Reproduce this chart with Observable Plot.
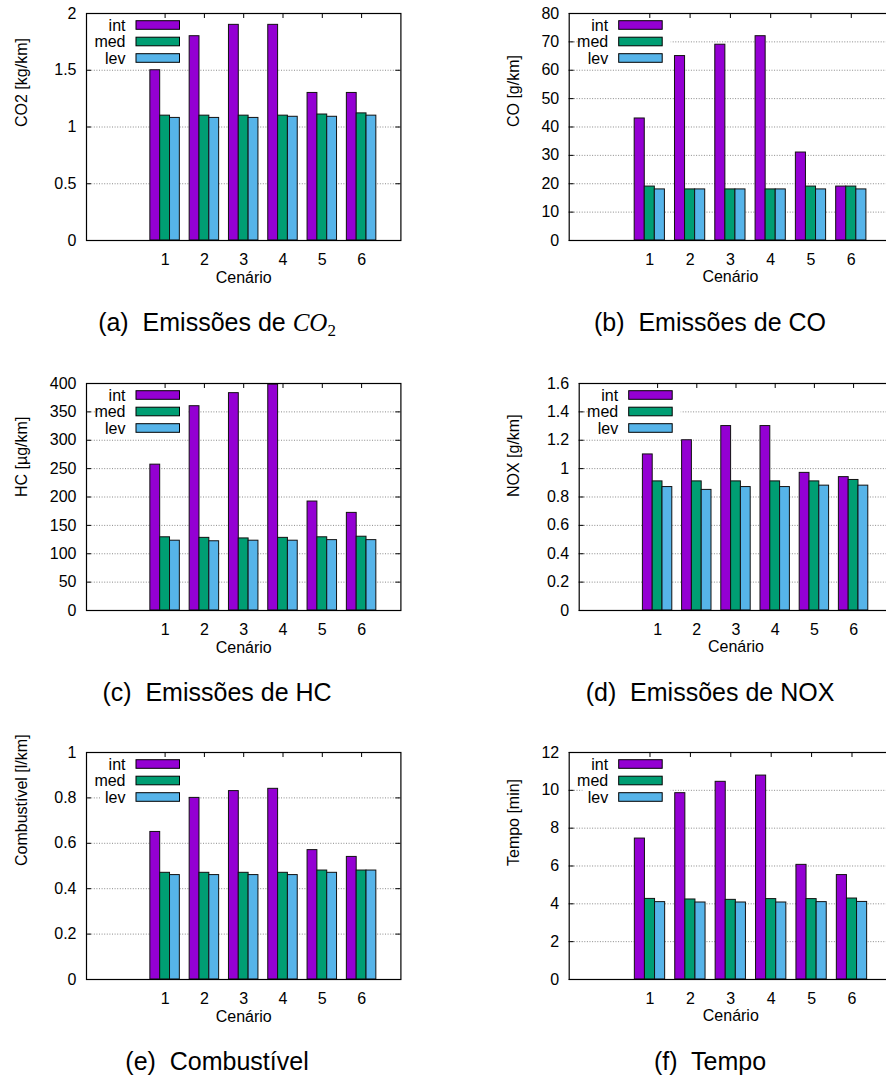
<!DOCTYPE html>
<html><head><meta charset="utf-8">
<script src="https://cdn.jsdelivr.net/npm/d3@7"></script>
<script src="https://cdn.jsdelivr.net/npm/@observablehq/plot@0.6"></script>
<style>
html,body{margin:0;padding:0;width:886px;height:1077px;overflow:hidden;background:#fff;font-family:"Liberation Sans",Arial,sans-serif;}
.cell{position:absolute;}
.cell svg{max-width:none !important;}
.cap{position:absolute;font-size:25px;white-space:pre;transform:translateX(-50%);color:#000;line-height:1;}
.math{font-family:"Liberation Serif",serif;font-style:italic;}
.sub{font-family:"Liberation Serif",serif;font-size:17px;position:relative;top:5px;}
</style></head><body>
<div id="root"></div>
<script>
const cenarios = [1, 2, 3, 4, 5, 6];
const series = ["int", "med", "lev"];
const colors = ["#9400d3", "#009e73", "#56b4e9"];

const co2Int = [1.5, 1.8, 1.9, 1.9, 1.3, 1.3];
const co2Med = [1.1, 1.1, 1.1, 1.1, 1.11, 1.12];
const co2Lev = [1.08, 1.08, 1.08, 1.09, 1.09, 1.1];
const co2Ticks = [0, 0.5, 1, 1.5, 2];
const co2TickLabels = ["0", "0.5", "1", "1.5", "2"];

const coInt = [43, 65, 69, 72, 31, 19];
const coMed = [19, 18, 18, 18, 19, 19];
const coLev = [18, 18, 18, 18, 18, 18];
const coTicks = [0, 10, 20, 30, 40, 50, 60, 70, 80];
const coTickLabels = ["0", "10", "20", "30", "40", "50", "60", "70", "80"];

const hcInt = [257, 360, 383, 398, 192, 172];
const hcMed = [129, 128, 127, 128, 129, 130];
const hcLev = [123, 122, 123, 123, 124, 124];
const hcTicks = [0, 50, 100, 150, 200, 250, 300, 350, 400];
const hcTickLabels = ["0", "50", "100", "150", "200", "250", "300", "350", "400"];

const noxInt = [1.1, 1.2, 1.3, 1.3, 0.97, 0.94];
const noxMed = [0.91, 0.91, 0.91, 0.91, 0.91, 0.92];
const noxLev = [0.87, 0.85, 0.87, 0.87, 0.88, 0.88];
const noxTicks = [0, 0.2, 0.4, 0.6, 0.8, 1, 1.2, 1.4, 1.6];
const noxTickLabels = ["0", "0.2", "0.4", "0.6", "0.8", "1", "1.2", "1.4", "1.6"];

const fuelInt = [0.65, 0.80, 0.83, 0.84, 0.57, 0.54];
const fuelMed = [0.47, 0.47, 0.47, 0.47, 0.48, 0.48];
const fuelLev = [0.46, 0.46, 0.46, 0.46, 0.47, 0.48];
const fuelTicks = [0, 0.2, 0.4, 0.6, 0.8, 1];
const fuelTickLabels = ["0", "0.2", "0.4", "0.6", "0.8", "1"];

const tempoInt = [7.45, 9.85, 10.45, 10.78, 6.06, 5.52];
const tempoMed = [4.26, 4.23, 4.21, 4.25, 4.25, 4.28];
const tempoLev = [4.09, 4.07, 4.07, 4.07, 4.09, 4.1];
const tempoTicks = [0, 2, 4, 6, 8, 10, 12];
const tempoTickLabels = ["0", "2", "4", "6", "8", "10", "12"];

const panels = [
  {ylabel: "CO2 [kg/km]", values: [co2Int, co2Med, co2Lev], ticks: co2Ticks, labels: co2TickLabels,
   caption: "(a)  Emissões de <span class='math'>CO</span><span class='sub'>2</span>",
   left: 0, top: 0, ml: 86, fw: 314.4, mr: 42.6, ylOff: 65, capX: 217},
  {ylabel: "CO [g/km]", values: [coInt, coMed, coLev], ticks: coTicks, labels: coTickLabels,
   caption: "(b)  Emissões de CO",
   left: 443, top: 0, ml: 125.7, fw: 322.4, mr: 2, ylOff: 55, capX: 710},
  {ylabel: "HC [µg/km]", values: [hcInt, hcMed, hcLev], ticks: hcTicks, labels: hcTickLabels,
   caption: "(c)  Emissões de HC",
   left: 0, top: 370, ml: 86, fw: 314.4, mr: 42.6, ylOff: 65, capX: 217},
  {ylabel: "NOX [g/km]", values: [noxInt, noxMed, noxLev], ticks: noxTicks, labels: noxTickLabels,
   caption: "(d)  Emissões de NOX",
   left: 443, top: 370, ml: 135.7, fw: 313.6, mr: 2, ylOff: 65, capX: 710},
  {ylabel: "Combustível [l/km]", values: [fuelInt, fuelMed, fuelLev], ticks: fuelTicks, labels: fuelTickLabels,
   caption: "(e)  Combustível",
   left: 0, top: 739, ml: 86, fw: 314.4, mr: 42.6, ylOff: 65, capX: 217},
  {ylabel: "Tempo [min]", values: [tempoInt, tempoMed, tempoLev], ticks: tempoTicks, labels: tempoTickLabels,
   caption: "(f)  Tempo",
   left: 443, top: 739, ml: 125.7, fw: 323.2, mr: 2, ylOff: 55, capX: 710}
];

const FS = 16;
const MT = 13, FH = 227, H = 290;
const root = document.getElementById("root");

panels.forEach(p => {
  const width = p.ml + p.fw + p.mr;
  const yMax = p.ticks[p.ticks.length - 1];
  const data = [];
  cenarios.forEach((c, i) => series.forEach((s, j) => data.push({c, s, j, v: p.values[j][i]})));
  const grid = p.ticks.filter(t => t > 0 && t < yMax);
  const legend = () => {
    const g = d3.create("svg:g").attr("font-family", "Liberation Sans, Arial, sans-serif").attr("font-size", FS);
    const x0 = p.ml, y0 = MT;
    g.append("rect").attr("x", x0 + 14).attr("y", y0 + 4).attr("width", 88).attr("height", 51).attr("fill", "white");
    series.forEach((s, j) => {
      const cy = y0 + 12 + j * 16.5;
      g.append("text").attr("x", x0 + 39.5).attr("y", cy).attr("dy", "0.36em").attr("text-anchor", "end").attr("fill", "#000").text(s);
      g.append("rect").attr("x", x0 + 50).attr("y", cy - 4.3).attr("width", 43.5).attr("height", 8.6)
        .attr("fill", colors[j]).attr("stroke", "#000").attr("stroke-width", 1);
    });
    return g.node();
  };
  const chart = Plot.plot({
    width, height: H,
    marginLeft: p.ml, marginRight: p.mr, marginTop: MT, marginBottom: H - MT - FH,
    style: {fontFamily: "Liberation Sans, Arial, sans-serif", fontSize: FS + "px", background: "transparent", overflow: "visible", color: "#000"},
    x: {domain: [-1, 7]},
    y: {domain: [0, yMax]},
    color: {domain: series, range: colors},
    marks: [
      Plot.ruleY(grid, {stroke: "#8a8a8a", strokeWidth: 1, strokeDasharray: "1,1.6"}),
      legend,
      Plot.rectY(data, {
        x1: d => d.c + (d.j - 1) * 0.25 - 0.125,
        x2: d => d.c + (d.j - 1) * 0.25 + 0.125,
        y1: 0, y2: "v", fill: "s", stroke: "#111", strokeWidth: 1
      }),
      Plot.ruleY(p.ticks, {insetRight: p.fw - 5, stroke: "#000"}),
      Plot.ruleY(p.ticks, {insetLeft: p.fw - 5, stroke: "#000"}),
      Plot.ruleX(cenarios, {insetBottom: FH - 5, stroke: "#000"}),
      Plot.frame({stroke: "#000", strokeWidth: 1.2}),
      Plot.axisY(p.ticks, {tickSize: 0, tickPadding: 10, label: null, tickFormat: d => p.labels[p.ticks.indexOf(d)], fontSize: FS}),
      Plot.axisX(cenarios, {tickSize: 0, tickPadding: 13, label: null, tickFormat: d => String(d), fontSize: FS}),
      Plot.text(["Cenário"], {frameAnchor: "bottom", dy: 42, text: d => d, fontSize: FS}),
      Plot.text([p.ylabel], {frameAnchor: "left", rotate: -90, dx: -p.ylOff, text: d => d, fontSize: FS})
    ]
  });
  const cell = document.createElement("div");
  cell.className = "cell";
  cell.style.left = p.left + "px";
  cell.style.top = p.top + "px";
  cell.style.width = width + "px";
  cell.appendChild(chart);
  root.appendChild(cell);
  const cap = document.createElement("div");
  cap.className = "cap";
  cap.style.left = p.capX + "px";
  cap.style.top = (p.top + 310) + "px";
  cap.innerHTML = p.caption;
  root.appendChild(cap);
});
</script>
</body></html>
